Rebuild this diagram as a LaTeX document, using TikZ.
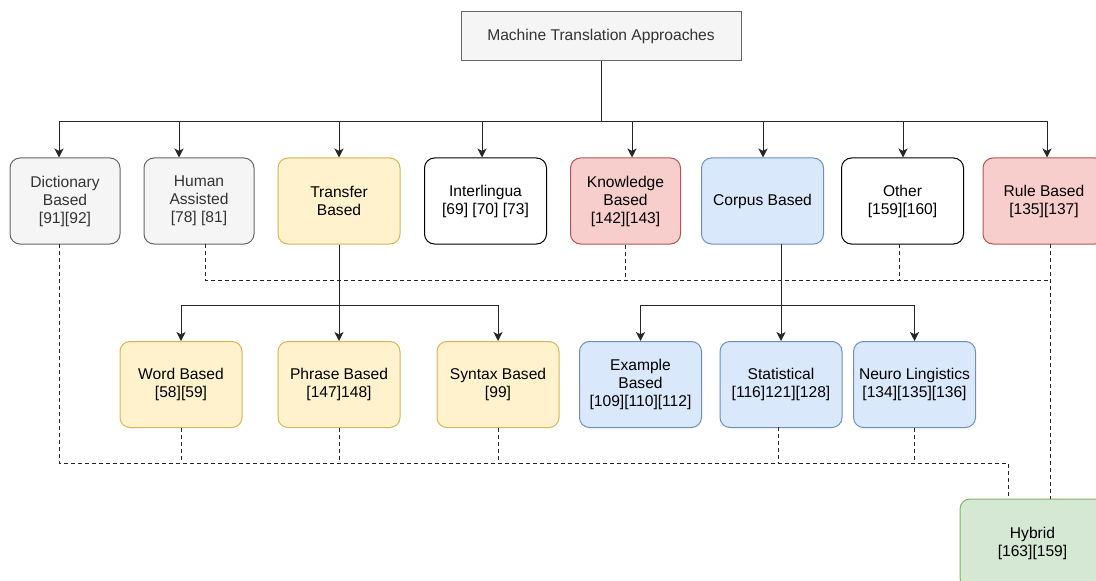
\documentclass[tikz,border=0pt]{standalone}
\usepackage{fontspec}
\setmainfont{Liberation Sans}
\usetikzlibrary{arrows.meta}
\definecolor{gfill}{HTML}{F5F5F5}
\definecolor{gline}{HTML}{666666}
\definecolor{gtext}{HTML}{333333}
\definecolor{yfill}{HTML}{FFF2CC}
\definecolor{yline}{HTML}{D6B656}
\definecolor{rfill}{HTML}{F8CECC}
\definecolor{rline}{HTML}{B85450}
\definecolor{bfill}{HTML}{DAE8FC}
\definecolor{bline}{HTML}{6C8EBF}
\definecolor{nfill}{HTML}{D5E8D4}
\definecolor{nline}{HTML}{82B366}
\newcommand{\boxfont}{\fontsize{11.7pt}{13.5pt}\selectfont}
\tikzset{
  x=0.75pt, y=-0.75pt,
  base/.style={draw, line width=0.75pt, align=center, font=\boxfont,
    inner sep=0pt, rounded corners=7.5pt, minimum height=86*0.75pt},
  narrow/.style={minimum width=110*0.75pt},
  wide/.style={minimum width=122*0.75pt},
  greybox/.style={base, fill=gfill, draw=gline, text=gtext},
  yellowbox/.style={base, fill=yfill, draw=yline},
  redbox/.style={base, fill=rfill, draw=rline},
  bluebox/.style={base, fill=bfill, draw=bline},
  greenbox/.style={base, fill=nfill, draw=nline},
  plainbox/.style={base, fill=white, draw=black},
  link/.style={line width=0.75pt, draw=black!85},
  arrowlink/.style={link, -{Stealth[length=6.75pt,width=6.75pt,inset=1.8pt]}},
  dashlink/.style={line width=0.75pt, draw=black!85, dash pattern=on 3pt off 2.25pt},
}
\begin{document}
\begin{tikzpicture}
\useasboundingbox (0,0) rectangle (1096,581);
\clip (0,0) rectangle (1096,581);

% root
\node[draw=gline, fill=gfill, text=gtext, line width=0.75pt, font=\boxfont,
      minimum width=280*0.75pt, minimum height=49*0.75pt, inner sep=0pt]
      (root) at (601,36.5) {Machine Translation Approaches};

% first level
\node[greybox, narrow]  (dict)     at (65,201)     {Dictionary\\Based\\{[91][92]}};
\node[greybox, narrow]  (human)    at (199,201)    {Human\\Assisted\\{[78] [81]}};
\node[yellowbox, wide]  (transfer) at (339,201)    {Transfer\\Based};
\node[plainbox, wide]   (inter)    at (485.5,201)  {Interlingua\\{[69] [70] [73]}};
\node[redbox, narrow]   (know)     at (625.5,201)  {Knowledge\\Based\\{[142][143]}};
\node[bluebox, wide]    (corpus)   at (762.5,201)  {Corpus Based};
\node[plainbox, wide]   (other)    at (902.5,201)  {Other\\{[159][160]}};
\node[redbox, wide]     (rule)     at (1044,201)   {Rule Based\\{[135][137]}};

% second level
\node[yellowbox, wide]  (word)     at (181,384.5)  {Word Based\\{[58][59]}};
\node[yellowbox, wide]  (phrase)   at (339,384.5)  {Phrase Based\\{[147]148]}};
\node[yellowbox, wide]  (syntax)   at (498,384.5)  {Syntax Based\\{[99]}};
\node[bluebox, wide]    (example)  at (640.5,384.5){Example\\Based\\{[109][110][112]}};
\node[bluebox, wide]    (stat)     at (781,384.5)  {Statistical\\{[116]121][128]}};
\node[bluebox, wide]    (neuro)    at (914.5,384.5){Neuro Lingistics\\{[134][135][136]}};

% hybrid
\node[greenbox, minimum width=145*0.75pt, minimum height=89*0.75pt]
      (hybrid) at (1032.5,543.5) {Hybrid\\{[163][159]}};

% bus points below the root
\coordinate (b1) at (59,122);
\coordinate (b2) at (179,122);
\coordinate (b3) at (339,122);
\coordinate (b4) at (482,122);
\coordinate (b5) at (632,122);
\coordinate (b6) at (763,122);
\coordinate (b7) at (903,122);
\coordinate (b8) at (1047,122);

\draw[arrowlink] (root.south) |- (b1) -- (b1 |- dict.north);
\draw[arrowlink] (root.south) |- (b2) -- (b2 |- human.north);
\draw[arrowlink] (root.south) |- (b3) -- (b3 |- transfer.north);
\draw[arrowlink] (root.south) |- (b4) -- (b4 |- inter.north);
\draw[arrowlink] (root.south) |- (b5) -- (b5 |- know.north);
\draw[arrowlink] (root.south) |- (b6) -- (b6 |- corpus.north);
\draw[arrowlink] (root.south) |- (b7) -- (b7 |- other.north);
\draw[arrowlink] (root.south) |- (b8) -- (b8 |- rule.north);

% transfer based children
\coordinate (t1) at (181,305);
\coordinate (t3) at (498,305);
\draw[arrowlink] (transfer.south) |- (t1) -- (word.north);
\draw[arrowlink] (transfer.south) -- (phrase.north);
\draw[arrowlink] (transfer.south) |- (t3) -- (syntax.north);

% corpus based children
\coordinate (c0) at (781,244);
\coordinate (c1) at (640.5,305);
\coordinate (c3) at (914.5,305);
\draw[arrowlink] (c0) |- (c1) -- (example.north);
\draw[arrowlink] (c0) -- (stat.north);
\draw[arrowlink] (c0) |- (c3) -- (neuro.north);

% dashed links into hybrid, upper route
\coordinate (u0) at (205,244);
\coordinate (u1) at (1050,280);
\coordinate (o0) at (899,244);
\coordinate (r0) at (1050,244);
\draw[dashlink] (u0) |- (u1);
\draw[dashlink] (know.south) -- (know.south |- u1);
\draw[dashlink] (o0) -- (o0 |- u1);
\draw[dashlink] (r0) -- (r0 |- hybrid.north);

% dashed links into hybrid, lower route
\coordinate (d0) at (59,244);
\coordinate (h1) at (1008,463);
\coordinate (s0) at (778,427);
\draw[dashlink] (d0) |- (h1) -- (h1 |- hybrid.north);
\draw[dashlink] (word.south) -- (word.south |- h1);
\draw[dashlink] (phrase.south) -- (phrase.south |- h1);
\draw[dashlink] (syntax.south) -- (syntax.south |- h1);
\draw[dashlink] (s0) -- (s0 |- h1);
\draw[dashlink] (neuro.south) -- (neuro.south |- h1);
\end{tikzpicture}
\end{document}
